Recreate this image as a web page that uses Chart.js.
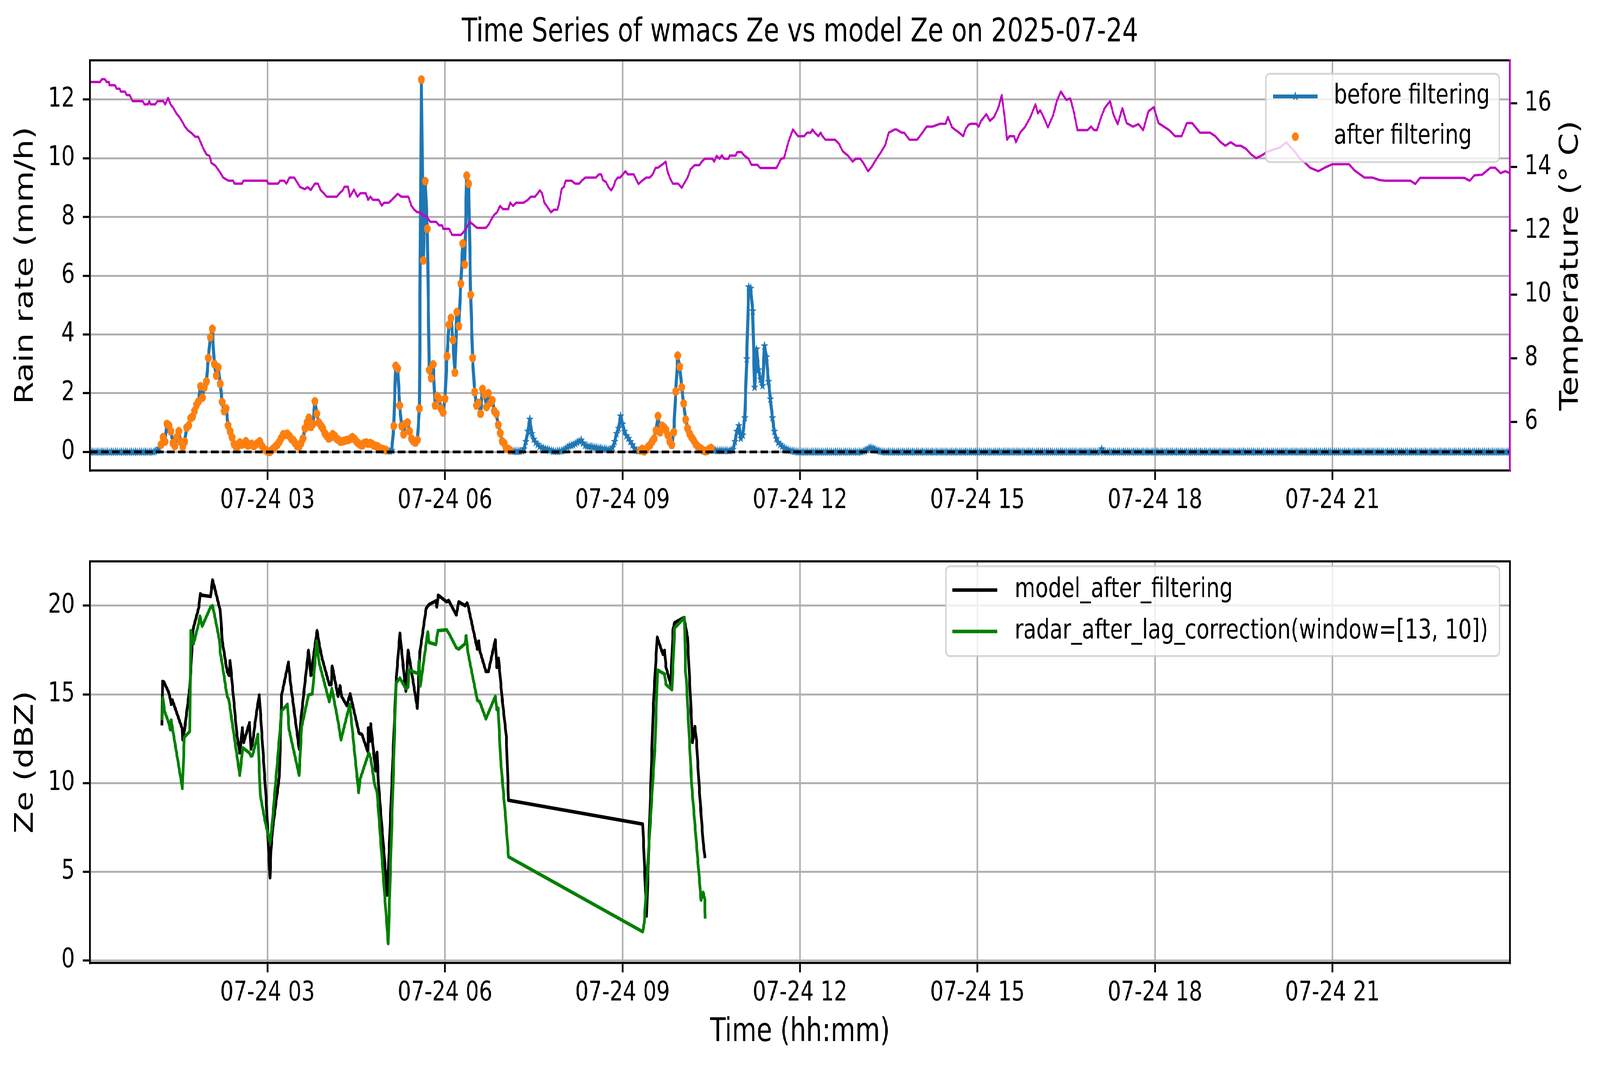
<!DOCTYPE html>
<html>
<head>
<meta charset="utf-8">
<title>Time Series of wmacs Ze vs model Ze on 2025-07-24</title>
<script src="https://cdn.jsdelivr.net/npm/chart.js@4.4.1/dist/chart.umd.min.js"></script>
<style>
  html, body { margin: 0; padding: 0; background: #fff; overflow: hidden; }
  #wrap { position: absolute; left: 0; top: 0; width: 5241px; height: 2740px; transform-origin: 0 0; }
  canvas { position: absolute; left: 0; width: 5241px; height: 1370px; }
  #rainChart { top: 0; }
  #zeChart { top: 1370px; }
</style>
</head>
<body>
<div id="wrap">
<canvas id="rainChart" width="5241" height="1370"></canvas>
<canvas id="zeChart" width="5241" height="1370"></canvas>
</div>
<script>
// x values are hours after 2025-07-24 00:00
const dayLabel = '07-24';
const hourTicks = [3, 6, 9, 12, 15, 18, 21];
const rainTicks = [0, 2, 4, 6, 8, 10, 12];
const tempTicks = [6, 8, 10, 12, 14, 16];
const zeTicks = [0, 5, 10, 15, 20];

// rain rate (mm/h), one value every 2 minutes, one row per hour
const rainStepMinutes = 2;
const rainRate = [
  0,0,0,0,0,0,0,0,0,0,0,0,0,0,0,0,0,0,0,0,0,0,0,0,0,0,0,0,0,0,
  0,0,0,0.02,0.05,0.12,0.25,0.5,0.35,0.95,0.9,0.7,0.3,0.2,0.5,0.7,0.35,0.18,0.35,0.83,0.9,1.15,1.2,1.4,1.6,1.72,2.23,1.85,2.2,2.4,
  3.2,3.9,4.19,3.0,2.6,2.88,2.32,1.7,1.39,1.48,0.9,0.7,0.5,0.27,0.18,0.2,0.32,0.25,0.28,0.36,0.22,0.25,0.27,0.2,0.25,0.3,0.36,0.22,0.12,0.06,
  0.02,0,0.05,0.12,0.18,0.25,0.35,0.48,0.6,0.58,0.62,0.55,0.45,0.4,0.3,0.2,0.18,0.3,0.46,0.8,1.0,1.16,0.85,0.95,1.72,1.3,1.0,0.9,0.8,0.64,
  0.55,0.46,0.5,0.6,0.55,0.45,0.41,0.35,0.36,0.38,0.4,0.41,0.45,0.5,0.45,0.36,0.3,0.25,0.22,0.3,0.32,0.28,0.3,0.27,0.22,0.2,0.18,0.12,0.1,0.08,
  0.06,0.04,0.02,0.05,0.88,2.93,2.84,1.58,0.88,0.6,0.95,1.0,0.7,0.45,0.36,0.32,0.41,1.48,12.68,6.52,9.22,7.6,2.79,2.51,2.98,1.58,1.9,1.81,1.48,1.34,
  1.81,3.26,4.33,4.56,3.81,2.7,4.76,4.28,5.73,7.1,6.38,9.41,9.13,5.35,3.2,2.04,1.58,1.67,1.3,2.14,1.95,1.53,2.0,1.67,1.76,1.39,1.3,0.92,0.64,0.36,
  0.3,0.13,0.1,0.05,0.03,0.02,0.02,0.02,0.02,0.03,0.1,0.35,0.7,1.11,0.62,0.43,0.32,0.25,0.18,0.15,0.12,0.1,0.08,0.06,0.04,0.02,0.02,0.02,0.03,0.03,
  0.05,0.1,0.15,0.2,0.22,0.24,0.28,0.32,0.36,0.4,0.3,0.22,0.2,0.18,0.18,0.16,0.15,0.14,0.13,0.12,0.1,0.1,0.09,0.08,0.08,0.15,0.35,0.62,0.8,1.22,
  0.95,0.7,0.55,0.46,0.35,0.24,0.12,0.06,0.03,0.05,0.1,0.02,0.08,0.18,0.24,0.35,0.45,0.73,1.22,0.67,0.89,0.84,0.75,0.57,0.35,0.24,0.67,2.06,3.28,2.9,
  2.2,1.65,1.1,0.8,0.62,0.5,0.4,0.28,0.2,0.14,0.1,0.05,0.02,0.04,0.1,0.13,0.06,0.05,0.04,0.05,0.04,0.05,0.04,0.05,0.04,0.05,0.08,0.35,0.7,0.89,
  0.46,0.57,1.16,3.17,5.62,5.57,4.8,2.2,3.5,2.79,2.47,2.25,3.61,3.23,2.4,1.8,1.16,0.7,0.45,0.32,0.25,0.18,0.13,0.09,0.06,0.05,0.03,0.02,0.01,0,
  0,0,0,0,0,0,0,0,0,0,0,0,0,0,0,0,0,0,0,0,0,0,0,0,0,0,0,0,0,0,
  0,0,0.02,0.04,0.08,0.12,0.15,0.12,0.08,0.05,0.03,0.02,0,0,0,0,0,0,0,0,0,0,0,0,0,0,0,0,0,0,
  0,0,0,0,0,0,0,0,0,0,0,0,0,0,0,0,0,0,0,0,0,0,0,0,0,0,0,0,0,0,
  0,0,0,0,0,0,0,0,0,0,0,0,0,0,0,0,0,0,0,0,0,0,0,0,0,0,0,0,0,0,
  0,0,0,0,0,0,0,0,0,0,0,0,0,0,0,0,0,0,0,0,0,0,0,0,0,0,0,0,0,0,
  0,0,0,0.1,0,0,0,0,0,0,0,0,0,0,0,0,0,0,0,0,0,0,0,0,0,0,0,0,0,0,
  0,0,0,0,0,0,0,0,0,0,0,0,0,0,0,0,0,0,0,0,0,0,0,0,0,0,0,0,0,0,
  0,0,0,0,0,0,0,0,0,0,0,0,0,0,0,0,0,0,0,0,0,0,0,0,0,0,0,0,0,0,
  0,0,0,0,0,0,0,0,0,0,0,0,0,0,0,0,0,0,0,0,0,0,0,0,0,0,0,0,0,0,
  0,0,0,0,0,0,0,0,0,0,0,0,0,0,0,0,0,0,0,0,0,0,0,0,0,0,0,0,0,0,
  0,0,0,0,0,0,0,0,0,0,0,0,0,0,0,0,0,0,0,0,0,0,0,0,0,0,0,0,0,0,
  0,0,0,0,0,0,0,0,0,0,0,0,0,0,0,0,0,0,0,0,0,0,0,0,0,0,0,0,0,0,
  0
];

// periods (hours) whose samples survive the filter
const keptPeriods = [[1.18, 5.0], [5.12, 7.1], [9.3, 10.52]];

// temperature readings [hour, deg C]
const temperature = [
  [0.00,16.67],[0.17,16.67],[0.20,16.76],[0.25,16.76],[0.28,16.67],[0.32,16.67],[0.33,16.57],[0.42,16.57],
  [0.45,16.46],[0.50,16.46],[0.52,16.37],[0.59,16.37],[0.62,16.26],[0.67,16.26],[0.72,16.07],[0.89,16.07],
  [0.92,15.97],[0.98,15.97],[1.00,16.07],[1.02,15.97],[1.10,15.97],[1.14,16.07],[1.24,16.07],[1.27,15.97],
  [1.32,16.17],[1.36,15.97],[1.41,15.85],[1.46,15.68],[1.51,15.57],[1.56,15.42],[1.60,15.28],[1.65,15.16],
  [1.72,15.06],[1.78,14.95],[1.83,14.95],[1.88,14.73],[1.92,14.56],[1.97,14.39],[2.02,14.35],[2.05,14.13],
  [2.12,14.04],[2.20,13.83],[2.25,13.67],[2.34,13.57],[2.42,13.57],[2.44,13.48],[2.57,13.48],[2.59,13.57],
  [2.99,13.57],[3.01,13.48],[3.18,13.48],[3.21,13.57],[3.28,13.57],[3.32,13.48],[3.37,13.67],[3.45,13.67],
  [3.50,13.52],[3.55,13.37],[3.63,13.31],[3.68,13.37],[3.73,13.28],[3.80,13.48],[3.85,13.48],[3.90,13.27],
  [3.95,13.18],[4.00,13.07],[4.17,13.07],[4.22,13.18],[4.27,13.27],[4.30,13.38],[4.36,13.38],[4.39,13.07],
  [4.46,13.29],[4.52,13.07],[4.57,13.18],[4.66,13.18],[4.70,12.97],[4.74,13.07],[4.78,12.97],[4.88,12.97],
  [4.93,12.79],[4.97,12.88],[5.05,12.88],[5.10,12.97],[5.20,13.16],[5.26,13.07],[5.38,13.07],[5.43,12.79],
  [5.48,12.66],[5.53,12.58],[5.58,12.58],[5.63,12.47],[5.68,12.47],[5.75,12.28],[5.85,12.28],[5.90,12.17],
  [5.95,12.17],[5.97,12.06],[6.07,12.06],[6.12,11.87],[6.27,11.87],[6.34,12.02],[6.38,12.15],[6.42,12.28],
  [6.47,12.20],[6.54,12.09],[6.69,12.09],[6.74,12.20],[6.79,12.38],[6.83,12.50],[6.88,12.58],[6.93,12.78],
  [6.98,12.68],[7.07,12.68],[7.10,12.88],[7.15,12.78],[7.20,12.88],[7.33,12.88],[7.40,12.97],[7.45,13.07],
  [7.52,13.07],[7.57,13.18],[7.60,13.27],[7.64,13.18],[7.68,12.88],[7.73,12.75],[7.79,12.58],[7.84,12.66],
  [7.90,12.66],[7.93,12.88],[7.97,13.31],[8.01,13.38],[8.04,13.57],[8.14,13.57],[8.20,13.48],[8.27,13.48],
  [8.31,13.57],[8.37,13.67],[8.55,13.67],[8.60,13.77],[8.64,13.77],[8.67,13.59],[8.72,13.53],[8.77,13.35],
  [8.81,13.27],[8.85,13.40],[8.88,13.57],[8.92,13.67],[8.96,13.67],[9.01,13.78],[9.05,13.87],[9.09,13.77],
  [9.19,13.77],[9.23,13.62],[9.27,13.47],[9.33,13.57],[9.40,13.67],[9.46,13.67],[9.51,13.77],[9.56,13.98],
  [9.60,13.98],[9.68,14.09],[9.73,14.17],[9.76,13.87],[9.80,13.66],[9.85,13.48],[9.94,13.48],[10.00,13.35],
  [10.04,13.48],[10.10,13.67],[10.15,13.93],[10.22,14.06],[10.30,14.06],[10.34,14.17],[10.39,14.26],[10.52,14.26],
  [10.55,14.17],[10.59,14.35],[10.64,14.26],[10.68,14.37],[10.72,14.26],[10.79,14.26],[10.81,14.36],[10.91,14.36],
  [10.94,14.47],[11.01,14.47],[11.06,14.36],[11.13,14.26],[11.18,14.07],[11.28,14.07],[11.33,13.97],[11.60,13.97],
  [11.63,14.07],[11.68,14.26],[11.73,14.28],[11.77,14.56],[11.81,14.82],[11.86,15.08],[11.88,15.18],[11.92,15.08],
  [11.97,14.97],[12.07,14.97],[12.12,15.08],[12.18,15.08],[12.21,15.18],[12.25,15.08],[12.31,14.97],[12.35,15.08],
  [12.38,14.97],[12.43,14.86],[12.59,14.86],[12.66,14.73],[12.72,14.50],[12.81,14.36],[12.89,14.17],[12.94,14.26],
  [13.02,14.26],[13.07,14.13],[13.15,13.87],[13.21,14.00],[13.28,14.22],[13.37,14.47],[13.44,14.69],[13.50,15.08],
  [13.60,15.18],[13.63,15.18],[13.72,15.08],[13.76,15.08],[13.85,14.86],[13.98,14.86],[14.07,15.08],[14.14,15.27],
  [14.24,15.27],[14.37,15.36],[14.46,15.36],[14.50,15.57],[14.57,15.25],[14.63,15.16],[14.69,15.08],[14.76,14.97],
  [14.80,15.20],[14.85,15.33],[14.89,15.36],[14.98,15.36],[15.02,15.27],[15.06,15.45],[15.15,15.66],[15.21,15.45],
  [15.28,15.57],[15.35,15.85],[15.41,16.26],[15.46,15.55],[15.50,14.86],[15.54,14.97],[15.62,14.97],[15.65,14.78],
  [15.72,15.08],[15.80,15.25],[15.89,15.55],[15.98,15.97],[16.02,15.69],[16.06,15.78],[16.11,15.60],[16.19,15.25],
  [16.28,15.63],[16.34,16.07],[16.41,16.37],[16.50,16.11],[16.57,16.15],[16.63,15.72],[16.69,15.16],[16.86,15.16],
  [16.92,15.27],[16.97,15.16],[17.02,15.16],[17.09,15.57],[17.15,15.85],[17.24,16.07],[17.30,15.64],[17.37,15.35],
  [17.45,15.85],[17.52,15.38],[17.63,15.27],[17.72,15.35],[17.80,15.16],[17.89,15.75],[17.98,15.88],[18.06,15.38],
  [18.15,15.27],[18.24,15.16],[18.34,14.97],[18.45,14.97],[18.54,15.38],[18.63,15.38],[18.76,15.08],[18.93,15.08],
  [19.02,14.97],[19.11,14.78],[19.19,14.67],[19.28,14.78],[19.37,14.67],[19.45,14.67],[19.54,14.57],[19.63,14.39],
  [19.71,14.28],[19.80,14.36],[19.89,14.47],[20.02,14.56],[20.11,14.61],[20.22,14.78],[20.28,14.65],[20.37,14.47],
  [20.45,14.26],[20.54,14.13],[20.62,13.98],[20.76,13.87],[20.89,14.00],[21.00,14.09],[21.28,14.09],[21.37,13.90],
  [21.45,13.79],[21.54,13.67],[21.67,13.67],[21.80,13.59],[21.90,13.57],[22.32,13.57],[22.40,13.47],[22.48,13.66],
  [22.75,13.66],[23.23,13.66],[23.32,13.57],[23.40,13.74],[23.53,13.76],[23.67,13.98],[23.75,13.98],[23.84,13.81],
  [23.92,13.87],[24.00,13.81]
];

// model Ze after filtering
const modelHours = [1.215,1.225,1.248,1.330,1.357,1.370,1.390,1.561,1.567,1.593,1.686,1.741,1.840,1.863,1.890,2.038,2.070,2.103,
  2.202,2.235,2.317,2.350,2.367,2.482,2.531,2.574,2.597,2.695,2.718,2.745,2.811,2.860,2.975,3.041,3.057,3.090,3.199,3.238,3.353,
  3.386,3.534,3.561,3.692,3.732,3.837,3.880,3.922,4.044,4.077,4.093,4.192,4.225,4.251,4.340,4.396,4.547,4.596,4.695,4.704,4.727,
  4.744,4.826,4.852,4.876,5.024,5.172,5.237,5.336,5.376,5.533,5.573,5.681,5.731,5.846,5.862,5.885,6.027,6.060,6.191,6.231,6.339,
  6.372,6.389,6.547,6.570,6.586,6.691,6.734,6.849,6.876,6.905,6.964,7.037,7.073,9.341,9.355,9.407,9.520,9.586,9.683,9.710,9.736,
  9.815,9.855,9.881,10.039,10.099,10.184,10.223,10.249,10.302,10.363,10.394];
const modelZe = [13.25,15.73,15.70,15.11,14.74,14.44,14.69,13.03,12.44,12.9,15.4,18.67,19.93,20.67,20.59,20.52,21.45,21.04,
  19.70,18.00,16.29,16.07,16.89,12.74,11.70,13.11,12.29,13.40,11.92,12.22,13.92,14.96,9.18,4.66,6.14,7.55,10.36,14.96,16.81,
  15.70,11.92,13.48,17.48,16.07,18.59,17.70,17.03,15.55,15.55,16.59,14.89,15.48,14.89,14.37,15.03,12.81,12.74,11.77,13.11,12.36,
  13.33,10.69,11.73,9.92,3.69,15.70,18.44,15.18,17.48,14.22,17.33,19.85,20.07,20.27,19.93,20.59,20.22,20.30,19.48,20.22,20.0,
  20.15,20.0,17.55,18.0,17.48,16.29,16.29,18.07,16.52,17.03,14.81,12.59,9.03,7.69,6.66,2.51,14.29,18.22,17.26,17.48,16.52,
  15.55,18.67,19.04,19.33,18.22,12.29,13.18,12.44,9.47,6.66,5.77];

// radar Ze after lag correction
const radarHours = [1.215,1.232,1.258,1.330,1.357,1.370,1.396,1.561,1.593,1.686,1.702,1.748,1.840,1.857,1.896,2.038,2.070,2.103,
  2.186,2.202,2.225,2.317,2.344,2.531,2.580,2.695,2.718,2.745,2.837,2.877,2.959,3.041,3.074,3.238,3.337,3.363,3.534,3.577,3.692,
  3.758,3.830,3.870,4.044,4.087,4.192,4.242,4.340,4.390,4.423,4.540,4.563,4.711,4.744,4.810,4.852,5.040,5.172,5.237,5.336,5.376,
  5.385,5.550,5.560,5.583,5.708,5.731,5.846,5.879,6.027,6.076,6.191,6.231,6.339,6.356,6.389,6.547,6.586,6.691,6.849,6.876,6.898,
  6.941,7.025,7.073,9.341,9.368,9.552,9.591,9.710,9.736,9.836,9.881,10.047,10.065,10.078,10.170,10.210,10.328,10.363,10.389,10.399];
const radarZe = [13.55,14.81,14.07,13.40,13.00,13.55,13.03,9.70,12.59,12.91,18.59,17.85,19.04,19.41,18.84,19.93,20.0,19.48,
  18.07,17.33,16.89,14.89,14.74,10.44,11.99,11.70,11.52,11.55,12.74,9.33,7.84,6.66,7.55,14.07,14.44,13.03,10.44,13.18,14.96,
  15.03,18.0,16.81,14.59,15.33,13.48,12.44,13.77,14.44,13.33,9.47,10.21,11.70,11.40,9.92,9.47,0.95,15.63,15.92,15.33,15.40,
  16.37,16.17,16.89,15.48,18.52,17.92,17.81,18.59,18.64,18.37,17.63,17.55,17.85,18.30,17.33,14.66,14.59,13.62,14.89,14.14,14.22,
  11.25,7.99,5.84,1.62,2.13,12.29,16.37,16.15,15.55,15.26,18.74,19.33,16.29,15.85,9.84,8.21,3.40,3.84,3.47,2.36];

// ---- styles ----
const BLUE = '#1f77b4', ORANGE = '#ff7f0e', MAGENTA = '#bf00bf', GREEN = '#008000';
const GRID = '#b0b0b0';
const SPINE = 5.5;
const TICK_FONT = { size: 69, lineHeight: 1.2 };
const LABEL_FONT = { size: 83, lineHeight: 1.2 };

// the figure is laid out on a 5241 x 2740 grid; stretch it over the window
(function fitPage() {
  const sx = window.innerWidth / 5241 || 1;
  const sy = window.innerHeight / 2740 || 1;
  document.getElementById('wrap').style.transform = 'scale(' + sx + ',' + sy + ')';
})();

Chart.defaults.font.family = '"DejaVu Sans", sans-serif';
Chart.defaults.color = '#000';

function makeStar(size, color) {
  const c = document.createElement('canvas');
  c.width = c.height = size;
  const g = c.getContext('2d');
  const r = size / 2, ri = r * 0.382;
  g.beginPath();
  for (let k = 0; k < 10; k++) {
    const rad = k % 2 ? ri : r;
    const a = -Math.PI / 2 + k * Math.PI / 5;
    g.lineTo(r + rad * Math.cos(a), r + rad * Math.sin(a));
  }
  g.closePath();
  g.fillStyle = color;
  g.fill();
  return c;
}
const starMarker = makeStar(26, BLUE);

const inKept = h => keptPeriods.some(p => h >= p[0] && h <= p[1]);
const rainPoints = rainRate.map((v, i) => ({ x: i * rainStepMinutes / 60, y: v }));
const filteredPoints = rainPoints.filter(p => inKept(p.x));
const tempPoints = temperature.map(r => ({ x: r[0], y: r[1] }));
const modelPoints = modelHours.map((h, i) => ({ x: h, y: modelZe[i] }));
const radarPoints = radarHours.map((h, i) => ({ x: h, y: radarZe[i] }));

const hourLabel = v => dayLabel + ' ' + String(v).padStart(2, '0');

function timeAxis(height, title) {
  return {
    type: 'linear', min: 0, max: 24,
    afterBuildTicks: s => { s.ticks = hourTicks.map(v => ({ value: v })); },
    afterFit: s => { s.height = height; },
    ticks: { callback: hourLabel, maxRotation: 0, autoSkip: false, padding: 13, font: TICK_FONT, color: '#000' },
    grid: { color: GRID, lineWidth: 5, tickLength: 24, tickColor: '#000', tickWidth: SPINE },
    border: { color: '#000', width: SPINE, z: 1 },
    title: title ? { display: true, text: title, font: LABEL_FONT, padding: { top: 0, bottom: 46 } } : { display: false }
  };
}

function leftAxis(min, max, ticks, title) {
  return {
    position: 'left', min: min, max: max,
    afterBuildTicks: s => { s.ticks = ticks.map(v => ({ value: v })); },
    afterFit: s => { s.width = 295; },
    ticks: { padding: 26, font: TICK_FONT, color: '#000' },
    grid: { color: GRID, lineWidth: 5, tickLength: 24, tickColor: '#000', tickWidth: SPINE },
    border: { color: '#000', width: SPINE, z: 1 },
    title: { display: true, text: title, font: LABEL_FONT, padding: { top: 36, bottom: 0 } }
  };
}

// spines the axes do not draw, plus a label rotated like the left one
const framePlugin = {
  id: 'frame',
  afterDatasetsDraw(chart, args, opts) {
    const { ctx, chartArea: a } = chart;
    ctx.save();
    ctx.strokeStyle = '#000';
    ctx.lineWidth = SPINE;
    ctx.beginPath();
    ctx.moveTo(a.left - SPINE / 2, a.top);
    ctx.lineTo(a.right + SPINE / 2, a.top);
    if (opts.right) {
      ctx.moveTo(a.right, a.top);
      ctx.lineTo(a.right, a.bottom + SPINE / 2);
    }
    ctx.stroke();
    if (opts.sideLabel) {
      ctx.translate(chart.width - 95, (a.top + a.bottom) / 2);
      ctx.rotate(-Math.PI / 2);
      ctx.font = '83px "DejaVu Sans"';
      ctx.fillStyle = '#000';
      ctx.textAlign = 'center';
      ctx.textBaseline = 'middle';
      ctx.fillText(opts.sideLabel, 0, 0);
    }
    ctx.restore();
  }
};

// matplotlib style legend box inside the plot
const boxLegend = {
  id: 'boxLegend',
  afterDraw(chart, args, opts) {
    const ctx = chart.ctx;
    const b = opts.box;
    const mid = (opts.handle[0] + opts.handle[1]) / 2;
    ctx.save();
    ctx.beginPath();
    ctx.roundRect(b[0], b[1], b[2], b[3], 14);
    ctx.fillStyle = 'rgba(255,255,255,0.8)';
    ctx.fill();
    ctx.lineWidth = 5;
    ctx.strokeStyle = 'rgba(204,204,204,0.8)';
    ctx.stroke();
    ctx.font = '69px "DejaVu Sans"';
    ctx.textBaseline = 'middle';
    ctx.textAlign = 'left';
    opts.rows.forEach(row => {
      const ds = chart.data.datasets[row.dataset];
      if (ds.showLine !== false) {
        ctx.strokeStyle = ds.borderColor;
        ctx.lineWidth = ds.borderWidth;
        ctx.beginPath();
        ctx.moveTo(opts.handle[0], row.y);
        ctx.lineTo(opts.handle[1], row.y);
        ctx.stroke();
      }
      if (ds.pointStyle === starMarker) {
        ctx.drawImage(starMarker, mid - starMarker.width / 2, row.y - starMarker.height / 2);
      } else if (ds.pointStyle === 'circle' && ds.pointRadius > 0) {
        ctx.fillStyle = ds.pointBackgroundColor;
        ctx.beginPath();
        ctx.arc(mid, row.y, ds.pointRadius, 0, Math.PI * 2);
        ctx.fill();
      }
      ctx.fillStyle = '#000';
      ctx.fillText(ds.label, opts.textX, row.y);
    });
    ctx.restore();
  }
};

new Chart(document.getElementById('rainChart'), {
  type: 'line',
  data: {
    datasets: [
      { label: 'Temperature', data: tempPoints, yAxisID: 'yT', borderColor: MAGENTA, borderWidth: 6,
        pointRadius: 0, borderJoinStyle: 'round', order: 0 },
      { label: 'zero', data: [{ x: 0, y: 0 }, { x: 24, y: 0 }], yAxisID: 'y', borderColor: '#000', borderWidth: 7,
        borderDash: [25, 11], pointRadius: 0, order: 1 },
      { label: 'after filtering', data: filteredPoints, yAxisID: 'y', showLine: false, pointStyle: 'circle',
        pointRadius: 11, pointBackgroundColor: ORANGE, pointBorderColor: ORANGE, pointBorderWidth: 0, order: 2 },
      { label: 'before filtering', data: rainPoints, yAxisID: 'y', borderColor: BLUE, borderWidth: 10,
        borderJoinStyle: 'round', pointStyle: starMarker, pointRadius: 13, order: 3 }
    ]
  },
  options: {
    responsive: false,
    animation: false,
    devicePixelRatio: 1,
    events: [],
    layout: { padding: 0 },
    scales: {
      x: timeAxis(165, null),
      y: leftAxis(-0.635, 13.335, rainTicks, 'Rain rate (mm/h)'),
      yT: {
        position: 'right', min: 4.47, max: 17.35,
        afterBuildTicks: s => { s.ticks = tempTicks.map(v => ({ value: v })); },
        afterFit: s => { s.width = 295; },
        ticks: { padding: 24, font: TICK_FONT, color: '#000' },
        grid: { drawOnChartArea: false, drawTicks: true, tickLength: 24, tickColor: '#000', tickWidth: SPINE },
        border: { color: MAGENTA, width: SPINE, z: 1 }
      }
    },
    plugins: {
      legend: { display: false },
      tooltip: { enabled: false },
      title: {
        display: true, text: 'Time Series of wmacs Ze vs model Ze on 2025-07-24',
        font: { size: 83, weight: 'normal', lineHeight: 1.2 }, color: '#000', padding: { top: 35, bottom: 20 }
      },
      frame: { right: false, sideLabel: 'Temperature (° C)' },
      boxLegend: {
        box: [4146, 189, 765, 226], handle: [4170, 4316], textX: 4369,
        rows: [{ dataset: 3, y: 247 }, { dataset: 2, y: 350 }]
      }
    }
  },
  plugins: [framePlugin, boxLegend]
});

new Chart(document.getElementById('zeChart'), {
  type: 'line',
  data: {
    datasets: [
      { label: 'model_after_filtering', data: modelPoints, borderColor: '#000', borderWidth: 9,
        borderJoinStyle: 'round', pointRadius: 0, order: 1 },
      { label: 'radar_after_lag_correction(window=[13, 10])', data: radarPoints, borderColor: GREEN, borderWidth: 9,
        borderJoinStyle: 'round', pointRadius: 0, order: 0 }
    ]
  },
  options: {
    responsive: false,
    animation: false,
    devicePixelRatio: 1,
    events: [],
    layout: { padding: { top: 45, right: 295, left: 0, bottom: 0 } },
    scales: {
      x: timeAxis(274, 'Time (hh:mm)'),
      y: leftAxis(-0.142, 22.5, zeTicks, 'Ze (dBZ)')
    },
    plugins: {
      legend: { display: false },
      tooltip: { enabled: false },
      frame: { right: true, sideLabel: '' },
      boxLegend: {
        box: [3098, 80, 1814, 230], handle: [3120, 3267], textX: 3324,
        rows: [{ dataset: 0, y: 141 }, { dataset: 1, y: 247 }]
      }
    }
  },
  plugins: [framePlugin, boxLegend]
});
</script>
</body>
</html>
